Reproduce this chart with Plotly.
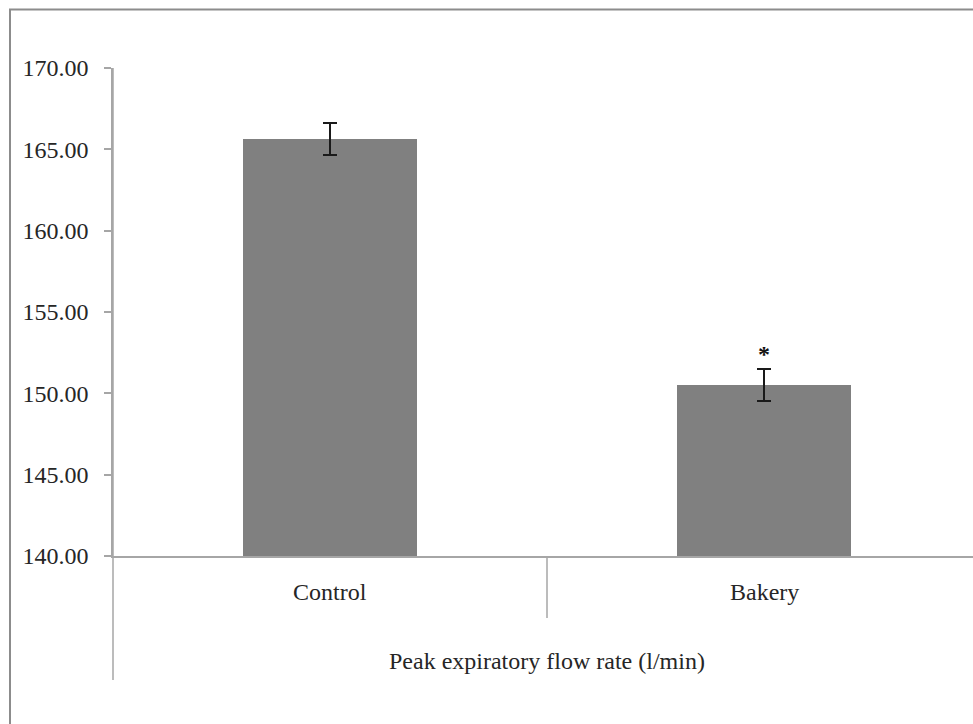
import plotly.graph_objects as go

# Peak expiratory flow rate, mean ± SE
categories = ["Control", "Bakery"]
means = [165.63, 150.50]
errors = [1.00, 1.00]
significance = ["", "*"]
y_ticks = [140, 145, 150, 155, 160, 165, 170]
x_title = "Peak expiratory flow rate (l/min)"

W, H = 973, 724
L, T, B = 113, 68, 168
plot_w = W - L
plot_h = H - T - B
# category slots are 434 px wide; the second slot runs past the right edge
slot = 434.0
x_pos = list(range(len(categories)))
x_range = [-0.5, -0.5 + plot_w / slot]

FONT = "Liberation Serif"
TEXT = "#262626"
AXIS = "#a6a6a6"

fig = go.Figure()
fig.add_trace(go.Bar(
    x=x_pos, y=means, width=0.4,
    marker=dict(color="#808080", line=dict(width=0)),
    error_y=dict(type="data", array=errors, visible=True,
                 color="#1a1a1a", thickness=2, width=7),
    showlegend=False, hoverinfo="skip",
))

# significance markers above the error bars
for xi, m, e, s in zip(x_pos, means, errors, significance):
    if s:
        fig.add_annotation(x=xi, y=m + e, text=f"<b>{s}</b>", showarrow=False,
                           yanchor="bottom", yshift=0,
                           font=dict(family=FONT, size=24, color="#111111"))

# category labels below the axis
for xi, c in zip(x_pos, categories):
    fig.add_annotation(x=xi, y=0, yref="paper", text=c, showarrow=False,
                       yanchor="middle", yshift=-36,
                       font=dict(family=FONT, size=24, color=TEXT))

# axis title centred between the categories
fig.add_annotation(x=0.5, y=0, yref="paper", text=x_title, showarrow=False,
                   yanchor="middle", yshift=-105,
                   font=dict(family=FONT, size=24, color=TEXT))

px_y = lambda py: (H - B - py) / plot_h  # pixel row -> paper y
px_x = lambda px: (px - L) / plot_w      # pixel col -> paper x

shapes = [
    # y axis line extended below the category axis
    dict(type="line", xref="paper", yref="paper", x0=0, x1=0,
         y0=px_y(680), y1=1, line=dict(color=AXIS, width=1.5)),
    # divider between the two category slots
    dict(type="line", xref="x", yref="paper", x0=0.5, x1=0.5,
         y0=px_y(618), y1=0, line=dict(color=AXIS, width=1.5)),
    # outer chart frame
    dict(type="rect", xref="paper", yref="paper",
         x0=px_x(10), x1=px_x(W + 20), y0=px_y(H + 20), y1=px_y(9.5),
         line=dict(color="#8c8c8c", width=2)),
]
fig.update_layout(shapes=shapes)

fig.update_layout(
    width=W, height=H,
    margin=dict(l=L, r=0, t=T, b=B),
    paper_bgcolor="white", plot_bgcolor="white",
    font=dict(family=FONT, color=TEXT),
    xaxis=dict(range=x_range, showticklabels=False, ticks="",
               showgrid=False, zeroline=False, showline=True,
               linecolor=AXIS, linewidth=1.5, fixedrange=True),
    yaxis=dict(range=[140, 170], tickvals=y_ticks,
               ticktext=[f"{v:.2f}" for v in y_ticks],
               ticks="outside", ticklen=7, tickcolor=AXIS, tickwidth=1.5,
               showgrid=False, zeroline=False, showline=True,
               linecolor=AXIS, linewidth=1.5, ticklabelstandoff=11,
               tickfont=dict(family=FONT, size=24, color=TEXT)),
    bargap=0,
)

fig.write_html("out.html")
